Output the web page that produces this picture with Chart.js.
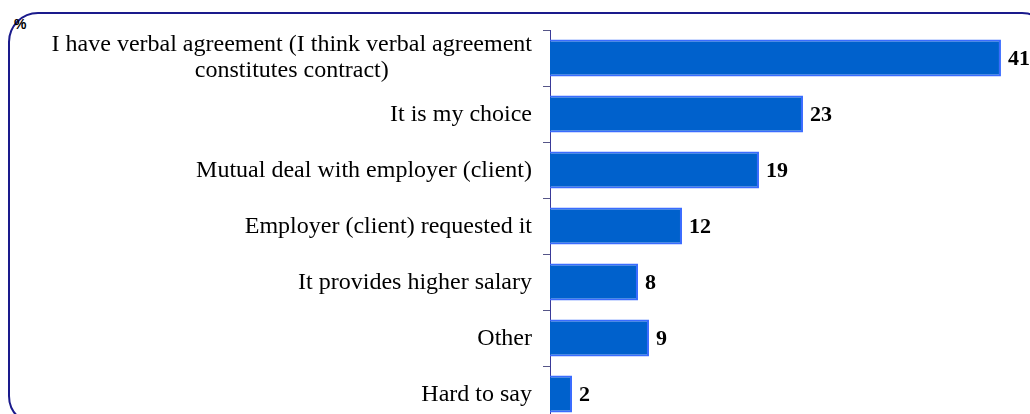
<!DOCTYPE html>
<html lang="en">
<head>
    <meta charset="UTF-8">
    <title>Reasons</title>
    <script src="https://cdn.jsdelivr.net/npm/chart.js"></script>
    <style>
        html, body {
            margin: 0;
            padding: 0;
            width: 1030px;
            height: 414px;
            overflow: hidden;
            background: white;
        }
        .frame {
            position: absolute;
            left: 8px;
            top: 12px;
            width: 1040px;
            height: 410px;
            border: 2px solid #1a1a8c;
            border-radius: 30px;
        }
        .unit {
            position: absolute;
            left: 14px;
            top: 16px;
            font: bold 14px Arial, "Liberation Sans", sans-serif;
        }
        .wrap {
            position: absolute;
            left: 0;
            top: 0;
            width: 1030px;
            height: 422px;
        }
    </style>
</head>
<body>
    <div class="frame"></div>
    <div class="unit">%</div>
    <div class="wrap"><canvas id="chart"></canvas></div>

    <script>
        const categories = [
            ['I have verbal agreement (I think verbal agreement', 'constitutes contract)'],
            ['It is my choice'],
            ['Mutual deal with employer (client)'],
            ['Employer (client) requested it'],
            ['It provides higher salary'],
            ['Other'],
            ['Hard to say']
        ];
        const values = [41, 23, 19, 12, 8, 9, 2];

        const serif = '"Liberation Serif", "Times New Roman", serif';

        // category labels, right-aligned block, multi-line centered
        const catLabels = {
            id: 'catLabels',
            afterDraw(chart) {
                const ctx = chart.ctx;
                const y = chart.scales.y;
                const right = chart.chartArea.left - 18;
                ctx.save();
                ctx.font = '24px ' + serif;
                ctx.fillStyle = '#000';
                ctx.textBaseline = 'middle';
                categories.forEach((lines, i) => {
                    const cy = y.getPixelForValue(i);
                    const lh = 26;
                    const top = cy - (lines.length - 1) * lh / 2;
                    if (lines.length === 1) {
                        ctx.textAlign = 'right';
                        ctx.fillText(lines[0], right, cy + 1);
                    } else {
                        const w = Math.max(...lines.map(l => ctx.measureText(l).width));
                        ctx.textAlign = 'center';
                        lines.forEach((l, k) => ctx.fillText(l, right - w / 2, top + k * lh));
                    }
                });
                ctx.restore();
            }
        };

        const valueLabels = {
            id: 'valueLabels',
            afterDatasetsDraw(chart) {
                const ctx = chart.ctx;
                const meta = chart.getDatasetMeta(0);
                ctx.save();
                ctx.font = 'bold 22px ' + serif;
                ctx.fillStyle = '#000';
                ctx.textAlign = 'left';
                ctx.textBaseline = 'middle';
                meta.data.forEach((bar, i) => {
                    ctx.fillText(values[i], bar.x + 7, bar.y + 1);
                });
                ctx.restore();
            }
        };

        new Chart(document.getElementById('chart'), {
            type: 'bar',
            data: {
                labels: categories,
                datasets: [{
                    data: values,
                    backgroundColor: '#0061cc',
                    borderColor: '#3a6cff',
                    borderWidth: 2,
                    borderSkipped: 'left',
                    barPercentage: 0.66,
                    categoryPercentage: 1
                }]
            },
            options: {
                indexAxis: 'y',
                responsive: true,
                maintainAspectRatio: false,
                animation: false,
                layout: { padding: { top: 30, right: 0, bottom: 0, left: 0 } },
                plugins: {
                    legend: { display: false },
                    tooltip: { enabled: false }
                },
                scales: {
                    x: {
                        display: false,
                        min: 0,
                        max: 43.64
                    },
                    y: {
                        offset: true,
                        afterFit(scale) { scale.width = 550; },
                        grid: {
                            offset: true,
                            drawOnChartArea: false,
                            tickLength: 7,
                            color: '#555588'
                        },
                        border: { color: '#3a3a99', width: 1 },
                        ticks: { display: false }
                    }
                }
            },
            plugins: [catLabels, valueLabels]
        });
    </script>
</body>
</html>
